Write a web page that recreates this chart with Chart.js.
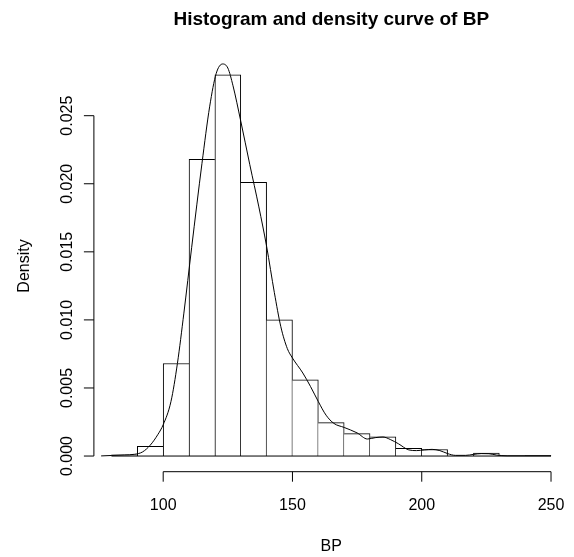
<!DOCTYPE html>
<html>
<head>
<meta charset="utf-8">
<script src="https://cdn.jsdelivr.net/npm/chart.js@4/dist/chart.umd.min.js"></script>
<style>
  html, body { margin: 0; padding: 0; background: #fff; }
  #wrap { width: 574px; height: 557px; }
</style>
</head>
<body>
<div id="wrap"><canvas id="hist" width="574" height="557"></canvas></div>
<script>
// histogram bins (left edges, width 10) and their densities
const binStarts = [80, 90, 100, 110, 120, 130, 140, 150, 160, 170, 180, 190, 200, 210, 220, 230, 240];
const binDensity = [0.00008, 0.00072, 0.0068, 0.0218, 0.0280, 0.0201, 0.0100, 0.0056, 0.00245,
                    0.00165, 0.00142, 0.00056, 0.00048, 0, 0.00022, 0, 0.00004];
const binWidth = 10;

// kernel density curve
const curveX = [76, 80, 85, 89, 92, 95, 98, 100, 103, 105.5, 108, 111, 115, 118, 120.5, 123, 125, 127,
                130, 133.5, 137, 140, 143, 145.5, 148, 150, 154, 157, 160, 163, 166, 170, 175, 179,
                182, 185, 188, 191, 195, 198, 201, 204, 207, 210, 213, 217, 220, 223, 226, 229, 233, 240, 250];
const curveY = [0.00001, 0.00004, 0.00008, 0.00013, 0.0003, 0.0008, 0.0016, 0.0023, 0.0040, 0.0068,
                0.0105, 0.0153, 0.0215, 0.0257, 0.0281, 0.0288, 0.0285, 0.0272, 0.0246, 0.0214, 0.0183,
                0.0154, 0.0120, 0.0095, 0.0079, 0.0072, 0.0061, 0.0051, 0.0040, 0.0030, 0.0024, 0.0021,
                0.0017, 0.00125, 0.00135, 0.0014, 0.0012, 0.0009, 0.00045, 0.0004, 0.00045, 0.00049,
                0.0004, 0.00018, 0.00005, 0.00005, 0.00012, 0.00018, 0.00017, 0.00007, 0.00002, 0.00002, 0.00002];

const xTicks = [100, 150, 200, 250];
const yTicks = [0, 0.005, 0.010, 0.015, 0.020, 0.025];
const yTickLabels = ['0.000', '0.005', '0.010', '0.015', '0.020', '0.025'];

const titleText = 'Histogram and density curve of BP';
const xLabel = 'BP';
const yLabel = 'Density';

const FONT = '"Liberation Sans", Arial, Helvetica, sans-serif';

// bars centred in their bins
const barData = binStarts.map((s, i) => ({ x: s + binWidth / 2, y: binDensity[i] }));
const curveData = curveX.map((x, i) => ({ x: x, y: curveY[i] }));
const lastBin = binStarts.length - 1;

// each shared edge is drawn once, by the taller of the two neighbours
function barBorder(ctx) {
  const i = ctx.dataIndex;
  const h = binDensity[i];
  const left = i === 0 || h >= binDensity[i - 1] ? 1 : 0;
  const right = i === lastBin || h > binDensity[i + 1] ? 1 : 0;
  return { top: 1, left: left, right: right, bottom: 0 };
}

// R-style detached axes, drawn with the chart's own scales
const rAxes = {
  id: 'rAxes',
  afterDraw(chart) {
    const ctx = chart.ctx;
    const xs = chart.scales.x, ys = chart.scales.y;
    const area = chart.chartArea;
    ctx.save();
    ctx.strokeStyle = '#000';
    ctx.fillStyle = '#000';
    ctx.lineWidth = 1;

    // x axis
    const axY = area.bottom;
    ctx.beginPath();
    ctx.moveTo(xs.getPixelForValue(xTicks[0]), axY);
    ctx.lineTo(xs.getPixelForValue(xTicks[xTicks.length - 1]), axY);
    xTicks.forEach(t => {
      const px = xs.getPixelForValue(t);
      ctx.moveTo(px, axY);
      ctx.lineTo(px, axY + 10);
    });
    ctx.stroke();
    ctx.font = '16px ' + FONT;
    ctx.textAlign = 'center';
    ctx.textBaseline = 'alphabetic';
    xTicks.forEach(t => ctx.fillText(String(t), xs.getPixelForValue(t), 510));

    // y axis
    const axX = area.left;
    ctx.beginPath();
    ctx.moveTo(axX, ys.getPixelForValue(yTicks[0]));
    ctx.lineTo(axX, ys.getPixelForValue(yTicks[yTicks.length - 1]));
    yTicks.forEach(t => {
      const py = ys.getPixelForValue(t);
      ctx.moveTo(axX, py);
      ctx.lineTo(axX - 10, py);
    });
    ctx.stroke();
    yTicks.forEach((t, i) => {
      ctx.save();
      ctx.translate(71.5, ys.getPixelForValue(t));
      ctx.rotate(-Math.PI / 2);
      ctx.fillText(yTickLabels[i], 0, 0);
      ctx.restore();
    });

    // axis titles
    const midX = (area.left + area.right) / 2;
    ctx.fillText(xLabel, midX, 551);
    ctx.save();
    ctx.translate(29, 266);
    ctx.rotate(-Math.PI / 2);
    ctx.fillText(yLabel, 0, 0);
    ctx.restore();

    // main title
    ctx.font = 'bold 19px ' + FONT;
    ctx.fillText(titleText, midX, 25);
    ctx.restore();
  }
};

new Chart(document.getElementById('hist'), {
  type: 'bar',
  data: {
    datasets: [
      {
        type: 'line',
        data: curveData,
        borderColor: '#000',
        borderWidth: 1,
        pointRadius: 0,
        tension: 0.4,
        cubicInterpolationMode: 'monotone',
        order: 0
      },
      {
        type: 'line',
        data: [{ x: binStarts[0], y: 0 }, { x: binStarts[lastBin] + binWidth, y: 0 }],
        borderColor: '#000',
        borderWidth: 1,
        pointRadius: 0,
        order: 1
      },
      {
        type: 'bar',
        data: barData,
        backgroundColor: '#fff',
        borderColor: '#000',
        borderWidth: barBorder,
        borderSkipped: 'start',
        barPercentage: 1,
        categoryPercentage: 1,
        grouped: false,
        order: 2
      }
    ]
  },
  options: {
    responsive: false,
    animation: false,
    devicePixelRatio: 1,
    layout: { padding: { left: 93.9, right: 5.4, top: 48.3, bottom: 85.3 } },
    plugins: { legend: { display: false }, tooltip: { enabled: false }, title: { display: false } },
    scales: {
      x: {
        type: 'linear',
        display: false,
        offset: false,
        min: 73.2,
        max: 256.8,
        afterBuildTicks: s => { s.ticks = xTicks.map(v => ({ value: v })); }
      },
      y: {
        type: 'linear',
        display: false,
        min: -0.00115,
        max: 0.02995,
        afterBuildTicks: s => { s.ticks = yTicks.map(v => ({ value: v })); }
      }
    }
  },
  plugins: [rAxes]
});
</script>
</body>
</html>
